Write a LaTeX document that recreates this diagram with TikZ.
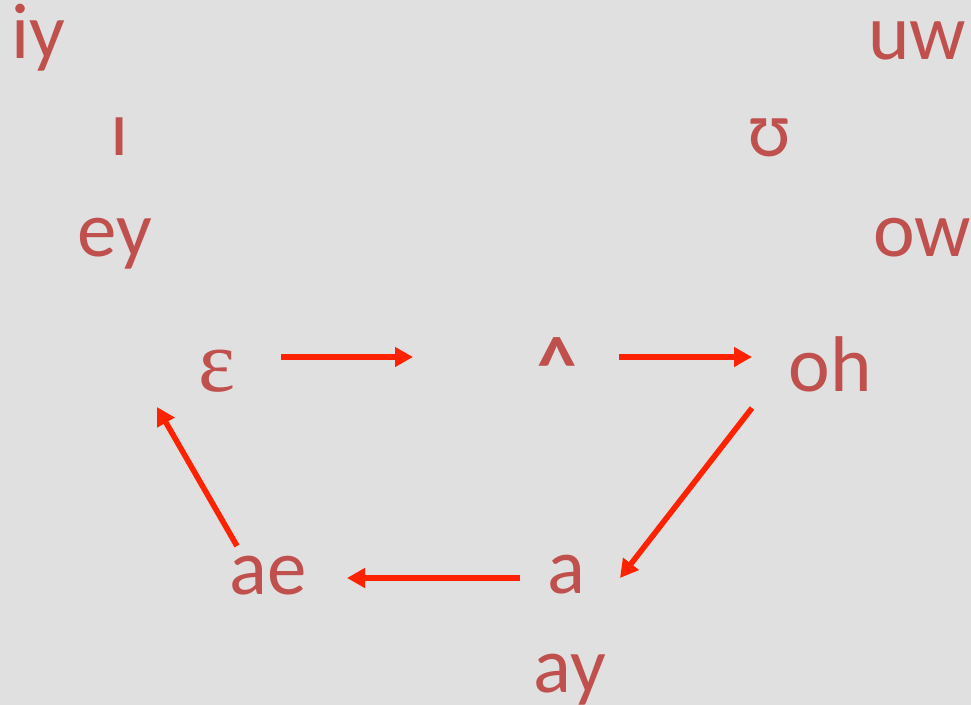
\documentclass[tikz,border=0pt]{standalone}
\usepackage{fontspec}
\setmainfont{Carlito}
\newfontfamily\ipaserif{Liberation Serif}
\usepackage{tikz}
\definecolor{vowelred}{HTML}{C0504D}
\definecolor{shiftred}{HTML}{FF2200}
\definecolor{slidegray}{HTML}{E0E0E0}
\usetikzlibrary{arrows.meta, calc}

\begin{document}
\begin{tikzpicture}[x=0.5pt, y=-0.5pt,
  vowel/.style={anchor=base, inner sep=0pt, text=vowelred, font=\fontsize{39.5}{47}\selectfont},
  shiftarrow/.style={draw=shiftred, line width=2.8pt, -{Triangle[length=9pt, width=9.5pt]}}]
\useasboundingbox[fill=slidegray] (0,0) rectangle (971,705);
% Vowel labels
\foreach \name/\x/\y/\txt in {iy/38/59/iy, ih/120/156/ɪ, ey/115/257/ey,
    uw/917/60/uw, uh/770/157/ʊ, ow/922/257/ow,
    oh/830/392/oh, ae/268/595/ae, aa/566/594/a, ay/570/693/ay}
  \node[vowel] (\name) at (\x,\y) {\txt};
\node[vowel, font=\fontsize{44}{50}\selectfont\ipaserif] (eh) at (217,392) {ɛ};
\node[vowel, font=\fontsize{39.5}{47}\selectfont\bfseries] (ah) at (557,392) {\textasciicircum};
% Draw chain shift
\draw[shiftarrow] ([shift={(64,-35)}]eh.base) -- ([shift={(-144,-35)}]ah.base);
\draw[shiftarrow] ([shift={(62,-35)}]ah.base) -- ([shift={(-78,-35)}]oh.base);
\draw[shiftarrow] ([shift={(-78,16)}]oh.base) -- ([shift={(54,-16)}]aa.base);
\draw[shiftarrow] ([shift={(-46,-16)}]aa.base) -- ([shift={(79,-17)}]ae.base);
\draw[shiftarrow] ([shift={(-31,-49)}]ae.base) -- ([shift={(-60,15)}]eh.base);
\end{tikzpicture}
\end{document}
